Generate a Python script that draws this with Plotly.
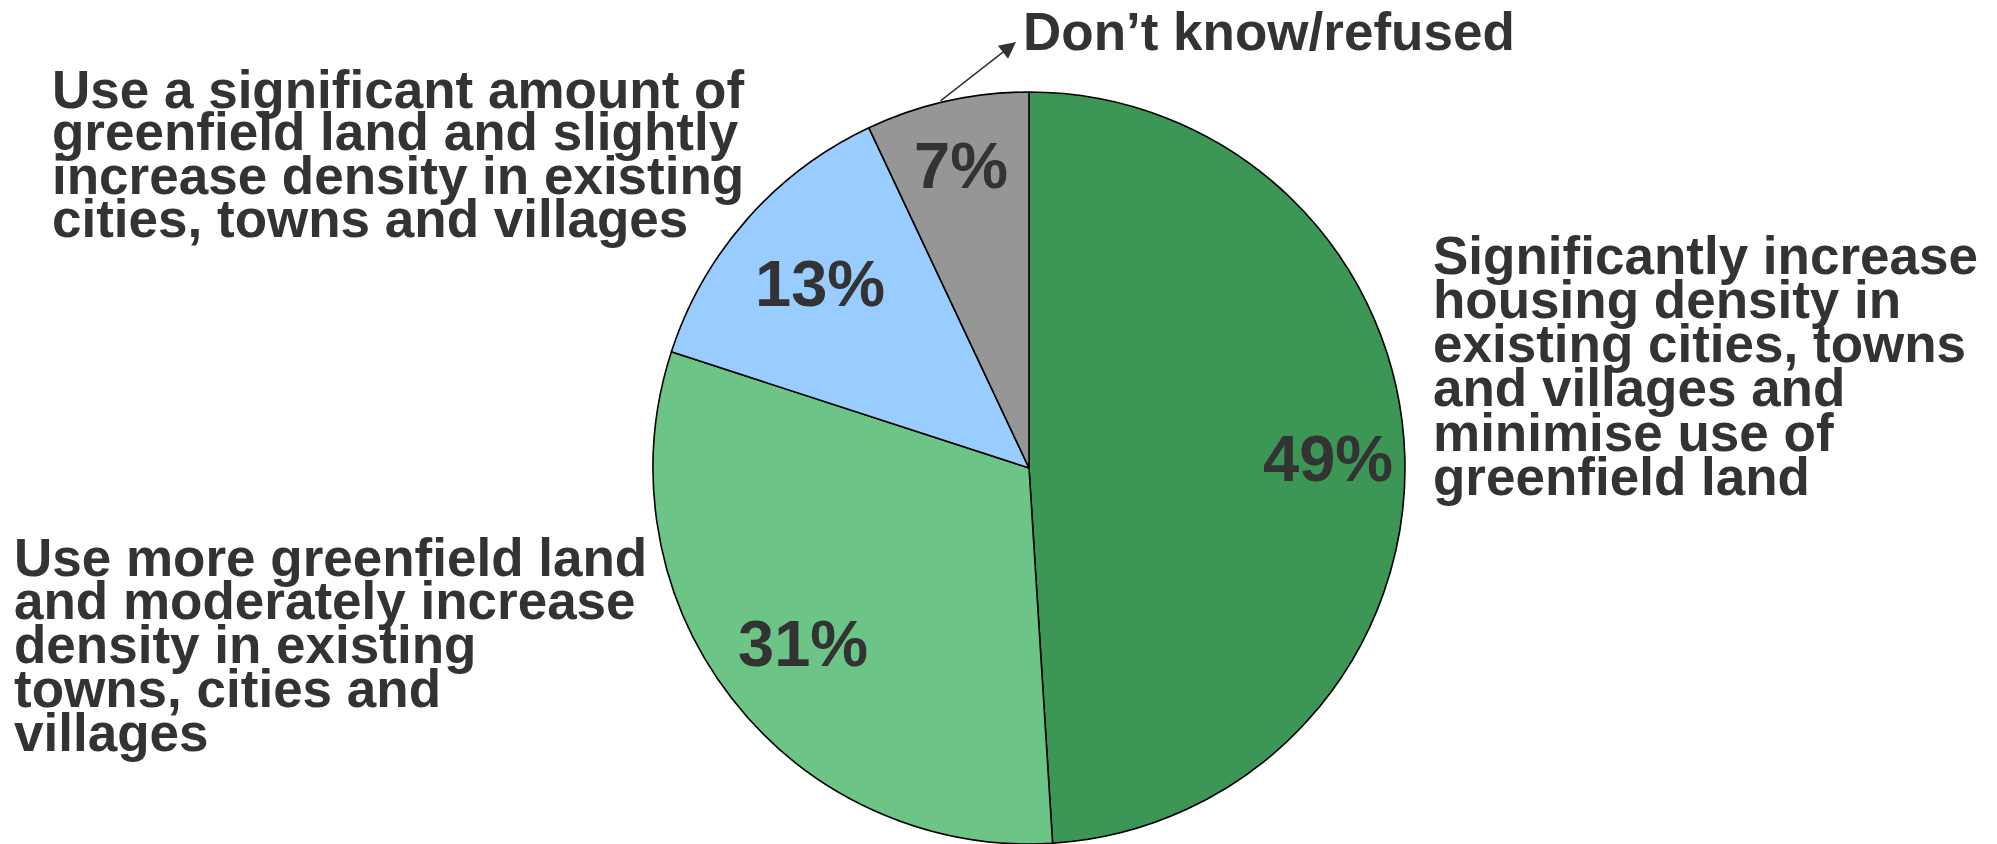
import math
import plotly.graph_objects as go

# ---- data ----
categories = [
    "Significantly increase housing density in existing cities, towns and villages and minimise use of greenfield land",
    "Use more greenfield land and moderately increase density in existing towns, cities and villages",
    "Use a significant amount of greenfield land and slightly increase density in existing cities, towns and villages",
    "Don’t know/refused",
]
values = [49, 31, 13, 7]
pct_text = ["49%", "31%", "13%", "7%"]
colors = ["#3C9656", "#6CC586", "#99CCFF", "#969696"]

label_right = ["Significantly increase", "housing density in", "existing cities, towns",
               "and villages and", "minimise use of", "greenfield land"]
label_bottom_left = ["Use more greenfield land", "and moderately increase", "density in existing",
                     "towns, cities and", "villages"]
label_top_left = ["Use a significant amount of", "greenfield land and slightly",
                  "increase density in existing", "cities, towns and villages"]
label_dk = "Don’t know/refused"

# ---- layout / style ----
W, H = 1997, 844
TXT = "#333333"
FONT = "Liberation Sans, Arial, sans-serif"
CX = 1029            # pie centre x (px)
TOP = 92             # top margin of pie domain (px)
R = (H - TOP) / 2    # pie radius (px)
CY = TOP + R         # pie centre y (px)
label_radius = [0.795, 0.76, 0.74, 0.825]   # radial position of % labels (fraction of R)

fig = go.Figure()
fig.add_trace(go.Pie(
    labels=categories,
    values=values,
    textinfo="none",
    marker=dict(colors=colors, line=dict(color="#000000", width=1.6)),
    sort=False,
    direction="clockwise",
    rotation=0,
    hoverinfo="label+percent",
    showlegend=False,
    domain=dict(x=[(CX - R) / W, (CX + R) / W], y=[0, (H - TOP) / H]),
))

def px2paper(px, py):
    return px / W, 1 - py / H

annotations = []

# percentage labels placed at each slice's mid-angle (derived from values)
total = sum(values)
cum = 0
for v, t, rf in zip(values, pct_text, label_radius):
    mid = (cum + v / 2) / total * 2 * math.pi
    cum += v
    px = CX + rf * R * math.sin(mid)
    py = CY - rf * R * math.cos(mid)
    x, y = px2paper(px, py)
    annotations.append(dict(
        text=t, x=x, y=y, xref="paper", yref="paper",
        xanchor="center", yanchor="middle", showarrow=False,
        font=dict(family=FONT, size=65, color=TXT, weight=700),
    ))

def add_block(lines, x0, y0, pitch):
    for i, line in enumerate(lines):
        x, y = px2paper(x0, y0 + i * pitch)
        annotations.append(dict(
            text=line, x=x, y=y, xref="paper", yref="paper",
            xanchor="left", yanchor="middle", showarrow=False,
            font=dict(family=FONT, size=53, color=TXT, weight=700),
        ))

add_block(label_right, 1431, 255, 44.3)
add_block(label_top_left, 50, 89, 43)
add_block(label_bottom_left, 12, 557, 43.8)
add_block([label_dk], 1021, 32, 0)

hx, hy = px2paper(1016, 42)
annotations.append(dict(
    text="", x=hx, y=hy, xref="paper", yref="paper",
    showarrow=True, ax=939 - 1016, ay=102 - 42, axref="pixel", ayref="pixel",
    arrowhead=2, arrowsize=2.2, arrowwidth=1.5, arrowcolor=TXT,
))

fig.update_layout(
    width=W, height=H,
    margin=dict(l=0, r=0, t=0, b=0),
    paper_bgcolor="white", plot_bgcolor="white",
    annotations=annotations,
)

fig.write_html("out.html", config={"displayModeBar": False},
               post_script="document.body.style.margin='0';")
